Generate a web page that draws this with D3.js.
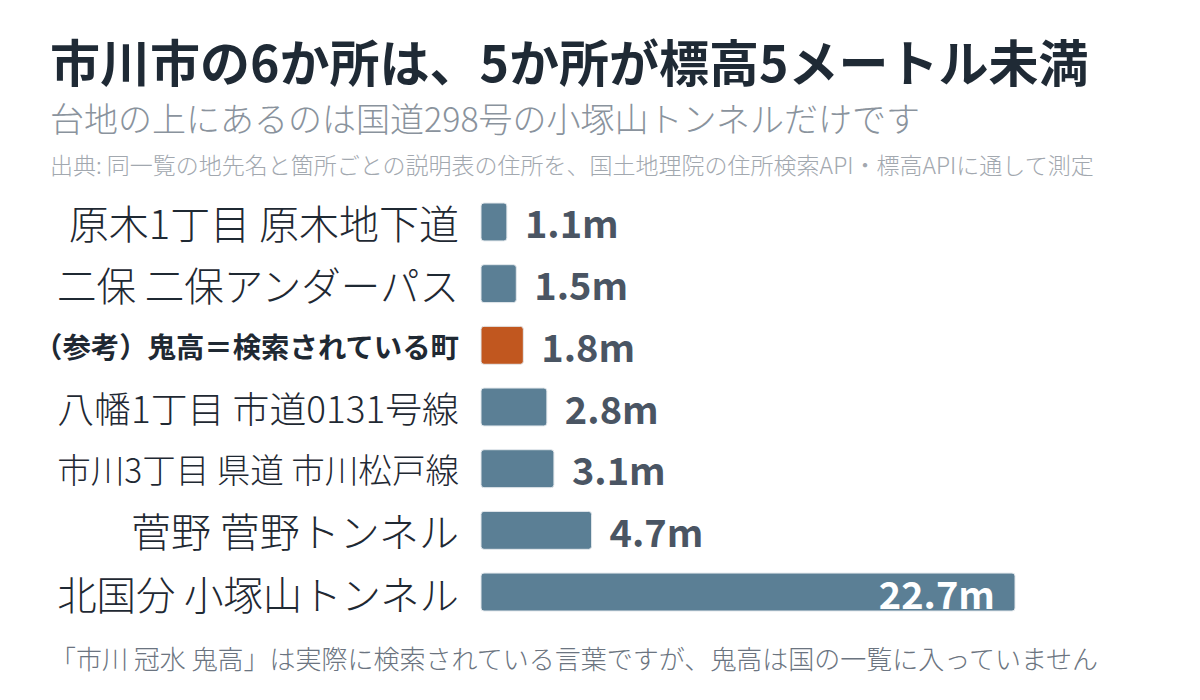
<!DOCTYPE html>
<html><head><meta charset="utf-8">
<script src="https://cdn.jsdelivr.net/npm/d3@7"></script>
<style>
html,body{margin:0;padding:0;background:#fff;}
svg text{font-family:"Noto Sans CJK JP","Noto Sans",sans-serif;}
</style></head>
<body><svg id="chart" width="1200" height="700"></svg>
<script>
const categories = ["原木1丁目 原木地下道","二保 二保アンダーパス","（参考）鬼高＝検索されている町","八幡1丁目 市道0131号線","市川3丁目 県道 市川松戸線","菅野 菅野トンネル","北国分 小塚山トンネル"];
const elevations = [1.1, 1.5, 1.8, 2.8, 3.1, 4.7, 22.7];
const isReference = [false, false, true, false, false, false, false];
const valueLabels = ["1.1m","1.5m","1.8m","2.8m","3.1m","4.7m","22.7m"];
const title = "市川市の6か所は、5か所が標高5メートル未満";
const subtitle = "台地の上にあるのは国道298号の小塚山トンネルだけです";
const source = "出典: 同一覧の地先名と箇所ごとの説明表の住所を、国土地理院の住所検索API・標高APIに通して測定";
const note = "「市川 冠水 鬼高」は実際に検索されている言葉ですが、鬼高は国の一覧に入っていません";

const svg = d3.select("#chart");
const x = d3.scaleLinear().domain([0, d3.max(elevations)]).range([481, 1015]);
const y = d3.scaleBand().domain(categories).range([203, 611]).paddingInner(0.385).paddingOuter(0);

svg.append("text").attr("x",50).attr("y",60).attr("dominant-baseline","central")
  .attr("font-size",50).attr("font-weight",700).attr("fill","#1f2a35").text(title);
svg.append("text").attr("x",50).attr("y",117).attr("dominant-baseline","central")
  .attr("font-size",34).attr("font-weight",300).attr("fill","#8a939d").text(subtitle);
svg.append("text").attr("x",50).attr("y",164).attr("dominant-baseline","central")
  .attr("font-size",23).attr("font-weight",300).attr("fill","#a2a8af").text(source);
svg.append("text").attr("x",50).attr("y",657).attr("dominant-baseline","central")
  .attr("font-size",26).attr("font-weight",300).attr("fill","#6b7480").text(note);

const rows = categories.map((c,i)=>({c, v:elevations[i], ref:isReference[i], lab:valueLabels[i]}));

svg.selectAll("rect.bar").data(rows).join("rect").attr("class","bar")
  .attr("x", x(0)).attr("y", d=>y(d.c)).attr("width", d=>x(d.v)-x(0)).attr("height", y.bandwidth())
  .attr("rx",3).attr("fill", d=>d.ref?"#c1571f":"#5b7f95").attr("stroke","#e3e8ec").attr("stroke-width",1);

const maxLabelW = 402;
svg.selectAll("text.cat").data(rows).join("text").attr("class","cat")
  .attr("x",459).attr("y", d=>y(d.c)+y.bandwidth()/2).attr("text-anchor","end").attr("dominant-baseline","central")
  .attr("font-size", d=>d.ref?28.4:40).attr("font-weight", d=>d.ref?700:300).attr("fill","#1f2933").text(d=>d.c)
  .each(function(d){
    if (d.ref) return;
    const w = this.getComputedTextLength();
    if (w > maxLabelW) d3.select(this).attr("font-size", 40*maxLabelW/w);
  });

svg.selectAll("text.val").data(rows).join("text").attr("class","val")
  .attr("x", d=> d.v>10 ? x(d.v)-20 : x(d.v)+18)
  .attr("y", d=>y(d.c)+y.bandwidth()/2)
  .attr("text-anchor", d=> d.v>10 ? "end":"start").attr("dominant-baseline","central")
  .attr("font-size",38).attr("font-weight",700).attr("fill", d=> d.v>10 ? "#ffffff" : "#4a5563").text(d=>d.lab);
</script></body></html>
